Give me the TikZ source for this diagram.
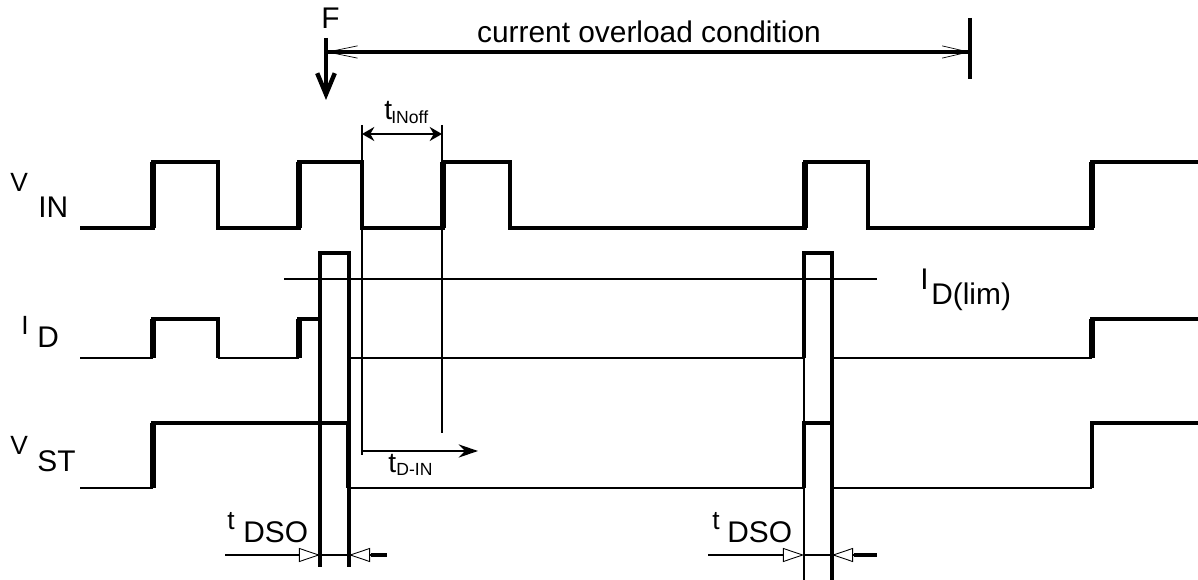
\documentclass[tikz,border=0pt]{standalone}
\usepackage{fontspec}
\setmainfont{Liberation Sans}
\usepackage{tikz}
\usetikzlibrary{arrows.meta}

\begin{document}
\begin{tikzpicture}[x=0.02cm,y=-0.02cm,>={Stealth[length=7pt,width=8pt]},
  wave/.style={line width=2.1pt},
  low/.style={line width=1.2pt},
  rise/.style={line width=3.2pt},
  guide/.style={line width=1pt},
  vbar/.style={line width=2pt},
  stub/.style={line width=2.2pt},
  dso/.style={-{Triangle[open,length=12pt,width=8pt,line width=0.5pt]}},
  lead/.style={font=\fontsize{15}{15}\selectfont,inner sep=0pt,anchor=base west},
  big/.style={font=\fontsize{17}{17}\selectfont,inner sep=0pt,anchor=base west},
  tsym/.style={font=\fontsize{16}{16}\selectfont,inner sep=0pt,anchor=base west},
  sub/.style={font=\fontsize{10}{10}\selectfont,inner sep=0pt,anchor=base west}]
\useasboundingbox (0,0) rectangle (1198,580);

\node[lead] (vin) at (10,192) {V};
\node[big] (vinsub) at (38,218) {IN};
\node[lead] (id) at (21,335) {I};
\node[big] (idsub) at (37,348) {D};
\node[lead] (vst) at (10,455) {V};
\node[big] (vstsub) at (37,472) {ST};

\draw[wave] (80,228) -| (153,162) -| (218,228) -| (299,162) -| (362,228) -| (443,162) -| (510,228) -| (805,162) -| (868,228) -| (1092,162) -- (1198,162);
\foreach \x in {153,299,443,805,1092} \draw[rise] (\x,228) -- (\x,162);

\draw[low] (80,358) -- (153,358) (218,358) -- (299,358) (349,358) -- (804,358) (832,358) -- (1092,358);
\draw[wave] (153,358) |- (218,319) -- (218,358);
\draw[wave] (299,358) |- (320,319) |- (349,253) -- (349,358);
\draw[wave] (804,358) |- (832,253) -- (832,358);
\draw[wave] (1092,358) |- (1198,319);
\foreach \x in {153,299,1092} \draw[rise] (\x,358) -- (\x,319);

\draw[low] (80,488) -- (153,488) (348,488) -- (804,488) (832,488) -- (1092,488);
\draw[wave] (153,488) |- (348,423) -- (348,488);
\draw[wave] (804,488) |- (832,423) -- (832,488);
\draw[wave] (1092,488) |- (1198,423);
\draw[rise] (153,488) -- (153,423);

\draw[vbar] (320,319) -- (320,567);
\draw[vbar] (349,253) -- (349,567);
\draw[guide] (804,253) -- (804,580);
\draw[vbar] (832,253) -- (832,580);
\draw[guide] (362,125) -- (362,455);
\draw[guide] (442,125) -- (442,433);

\coordinate (limA) at (284,279);
\coordinate (limB) at (877,279);
\draw[guide] (limA) -- (limB);
\node[big] (ilim) at (920,290) {I};
\node[big] (ilimsub) at (931,305) {D(lim)};

\node[big] (f) at (321,29) {F};
\coordinate (ftop) at (326,38);
\coordinate (fbot) at (326,100);
\coordinate (ovlA) at (326,52);
\coordinate (ovlB) at (970,52);
\draw[line width=2.5pt,-{Straight Barb[length=12pt,width=10pt]}] (ftop) -- (fbot);
\draw[line width=1.8pt,{Straight Barb[length=17pt,width=7pt,line width=0.4pt]}-{Straight Barb[length=15pt,width=7pt,line width=0.4pt]}] (ovlA) -- (ovlB);
\draw[line width=2.5pt] (970,18) -- (970,79);
\node[big,anchor=base] (ovl) at (649,43) {current overload condition};

\coordinate (offA) at (362,134);
\coordinate (offB) at (442,134);
\draw[guide,<->] (offA) -- (offB);
\node[tsym] (toff) at (384,120) {t};
\node[sub] (toffsub) at (391,124) {INoff};

\coordinate (dinA) at (362,451);
\coordinate (dinB) at (478,451);
\draw[guide,-{Stealth[length=11pt,width=7.5pt]}] (dinA) -- (dinB);
\node[tsym] (tdin) at (388,473) {t};
\node[sub] (tdinsub) at (396,476) {D-IN};

\draw[guide,dso] (225,555) -- (320,555);
\draw[guide] (320,555) -- (349,555);
\draw[guide,dso] (387,555) -- (349,555);
\draw[stub] (371,555) -- (387,555);
\node[lead] (tdso) at (227,530) {t};
\node[big] (tdsosub) at (243,543) {DSO};

\draw[guide,dso] (708,555) -- (804,555);
\draw[guide] (804,555) -- (832,555);
\draw[guide,dso] (877,555) -- (832,555);
\draw[stub] (854,555) -- (877,555);
\node[lead] (tdsob) at (712,530) {t};
\node[big] (tdsobsub) at (727,543) {DSO};
\end{tikzpicture}
\end{document}
